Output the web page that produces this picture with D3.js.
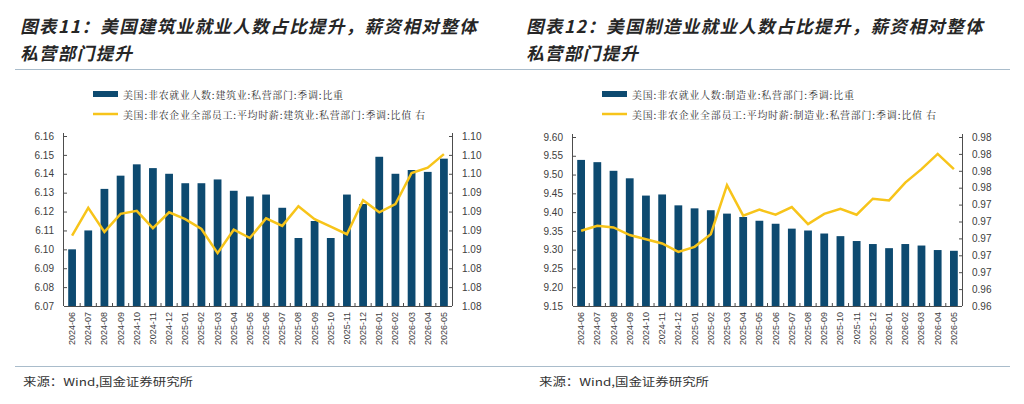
<!DOCTYPE html>
<html>
<head>
<meta charset="utf-8">
<script src="https://cdn.jsdelivr.net/npm/d3@7"></script>
<style>
  body { margin: 0; background: #fff; }
  text { font-family: "Liberation Sans", Arial, sans-serif; }
</style>
</head>
<body>
<svg id="chart" width="1024" height="404"></svg>
<script>
// months shared by both panels
const months = ["2024-06","2024-07","2024-08","2024-09","2024-10","2024-11","2024-12",
  "2025-01","2025-02","2025-03","2025-04","2025-05","2025-06","2025-07","2025-08",
  "2025-09","2025-10","2025-11","2025-12","2026-01","2026-02","2026-03","2026-04","2026-05"];

// panel 11: construction
const constructionShare = [6.100,6.110,6.132,6.139,6.145,6.143,6.140,6.135,6.135,6.137,6.131,6.128,
  6.129,6.122,6.106,6.115,6.106,6.129,6.124,6.149,6.140,6.142,6.141,6.148];
const constructionWage = [1.0873,1.0910,1.0878,1.0902,1.0906,1.0883,1.0904,1.0895,1.0882,1.0850,1.0881,1.0870,
  1.0896,1.0886,1.0912,1.0895,1.0885,1.0875,1.0920,1.0904,1.0915,1.0956,1.0963,1.0981];
const constructionLeftDomain = [6.07, 6.16];
const constructionRightDomain = [1.078, 1.1005];

// panel 12: manufacturing
const manufShare = [9.539,9.533,9.510,9.490,9.444,9.447,9.418,9.410,9.405,9.396,9.387,9.377,
  9.369,9.356,9.351,9.343,9.336,9.323,9.315,9.304,9.315,9.311,9.299,9.297];
const manufWage = [0.9709,0.9715,0.9713,0.9704,0.9699,0.9694,0.9684,0.9690,0.9705,0.9763,0.9727,0.9734,
  0.9728,0.9737,0.9717,0.9729,0.9735,0.9728,0.9747,0.9745,0.9766,0.9782,0.9800,0.9782];
const manufLeftDomain = [9.15, 9.60];
const manufRightDomain = [0.962, 0.982];

const barColor = "#0d4a70";
const lineColor = "#f7c41a";
const axisColor = "#4d4d4d";
const labelColor = "#404040";

const svg = d3.select("#chart");
svg.append("rect").attr("width", 1024).attr("height", 404).attr("fill", "#fff");

// rules under the titles and above the source lines
svg.append("line").attr("x1", 15).attr("x2", 1010).attr("y1", 69.5).attr("y2", 69.5)
  .attr("stroke", "#a9bccb").attr("stroke-width", 1);
svg.append("line").attr("x1", 15).attr("x2", 1010).attr("y1", 366.5).attr("y2", 366.5)
  .attr("stroke", "#a9bccb").attr("stroke-width", 1);

function drawPanel(p) {
  const g = svg.append("g");

  // title, two lines, slanted like the original kai italic
  p.title.forEach((t, i) => {
    g.append("text")
      .attr("transform", `translate(${p.titleX},${25 + i * 27}) skewX(-13)`)
      .attr("dominant-baseline", "central")
      .style("font-family", "'Noto Sans CJK SC', sans-serif")
      .style("font-weight", 700)
      .style("font-size", "17.5px").style("letter-spacing", "1.4px")
      .attr("fill", "#262626")
      .text(t);
  });

  // legend
  g.append("rect").attr("x", p.legendX).attr("y", 91).attr("width", 25).attr("height", 6)
    .attr("fill", barColor);
  g.append("line").attr("x1", p.legendX).attr("x2", p.legendX + 25).attr("y1", 114).attr("y2", 114)
    .attr("stroke", lineColor).attr("stroke-width", 2.5);
  p.legend.forEach((t, i) => {
    g.append("text")
      .attr("x", p.legendX + 30).attr("y", 94 + i * 20)
      .attr("dominant-baseline", "central")
      .attr("textLength", p.legendWidths[i]).attr("lengthAdjust", "spacing")
      .style("font-family", "'Noto Serif CJK SC', 'Noto Sans CJK SC', serif")
      .style("font-size", "10px")
      .attr("fill", "#333")
      .text(t);
  });

  const x = d3.scaleBand().domain(months).range([p.left, p.right]).paddingInner(0.52).paddingOuter(0.26);
  const yL = d3.scaleLinear().domain(p.leftDomain).range([p.bottom, p.top]);
  const yR = d3.scaleLinear().domain(p.rightDomain).range([p.bottom, p.top]);

  // bars
  g.selectAll("rect.bar").data(p.share).enter().append("rect")
    .attr("class", "bar")
    .attr("x", (d, i) => x(months[i]))
    .attr("width", x.bandwidth())
    .attr("y", d => yL(d))
    .attr("height", d => p.bottom - yL(d))
    .attr("fill", barColor);

  // line
  const line = d3.line()
    .x((d, i) => x(months[i]) + x.bandwidth() / 2)
    .y(d => yR(d));
  g.append("path").datum(p.wage)
    .attr("d", line)
    .attr("fill", "none")
    .attr("stroke", lineColor)
    .attr("stroke-width", 2.5)
    .attr("stroke-linejoin", "miter");

  // left axis
  const leftTicks = d3.range(0, p.leftCount + 1).map(i => p.leftDomain[0] + i * (p.leftDomain[1] - p.leftDomain[0]) / p.leftCount);
  const aL = g.append("g").attr("transform", `translate(${p.left},0)`)
    .call(d3.axisLeft(yL).tickValues(leftTicks).tickFormat(d3.format(".2f")).tickSize(-3).tickPadding(10));
  const rightTicks = d3.range(0, p.rightCount + 1).map(i => p.rightDomain[0] + i * (p.rightDomain[1] - p.rightDomain[0]) / p.rightCount);
  const aR = g.append("g").attr("transform", `translate(${p.right},0)`)
    .call(d3.axisRight(yR).tickValues(rightTicks).tickFormat(d3.format(".2f")).tickSize(-3).tickPadding(10));
  [aL, aR].forEach(a => {
    a.select(".domain").attr("stroke", axisColor).attr("d", a === aL
      ? `M-0.5,${p.top - 3}V${p.bottom}` : `M0.5,${p.top - 3}V${p.bottom}`);
    a.selectAll(".tick line").attr("stroke", axisColor);
    a.selectAll("text").attr("fill", labelColor).style("font-size", "10px")
      .style("font-family", "'Liberation Sans', Arial, sans-serif");
  });

  // bottom axis with ticks between categories
  g.append("line").attr("x1", p.left).attr("x2", p.right).attr("y1", p.bottom + 0.5).attr("y2", p.bottom + 0.5)
    .attr("stroke", axisColor);
  const step = x.step();
  g.selectAll("line.xt").data(d3.range(1, months.length)).enter().append("line")
    .attr("class", "xt")
    .attr("x1", i => p.left + i * step).attr("x2", i => p.left + i * step)
    .attr("y1", p.bottom).attr("y2", p.bottom - 3)
    .attr("stroke", axisColor);
  g.selectAll("text.xl").data(months).enter().append("text")
    .attr("class", "xl")
    .attr("transform", d => `translate(${x(d) + x.bandwidth() / 2 + 3},${p.bottom + 6}) rotate(-90)`)
    .attr("text-anchor", "end")
    .style("font-size", "9px")
    .attr("fill", labelColor)
    .text(d => d);

  // source
  g.append("text")
    .attr("x", p.sourceX).attr("y", 381)
    .attr("dominant-baseline", "central")
    .attr("textLength", 170).attr("lengthAdjust", "spacingAndGlyphs")
    .style("font-family", "'Noto Sans CJK SC', sans-serif")
    .style("font-size", "11px")
    .attr("fill", "#333")
    .text("来源：Wind,国金证券研究所");
}

drawPanel({
  title: ["图表11：美国建筑业就业人数占比提升，薪资相对整体", "私营部门提升"],
  legend: ["美国:非农就业人数:建筑业:私营部门:季调:比重", "美国:非农企业全部员工:平均时薪:建筑业:私营部门:季调:比值 右"],
  legendWidths: [220, 302],
  titleX: 22, legendX: 93, sourceX: 23,
  left: 64, right: 452, top: 136, bottom: 306,
  share: constructionShare, wage: constructionWage,
  leftDomain: constructionLeftDomain, rightDomain: constructionRightDomain,
  leftCount: 9, rightCount: 9
});

drawPanel({
  title: ["图表12：美国制造业就业人数占比提升，薪资相对整体", "私营部门提升"],
  legend: ["美国:非农就业人数:制造业:私营部门:季调:比重", "美国:非农企业全部员工:平均时薪:制造业:私营部门:季调:比值 右"],
  legendWidths: [222, 304],
  titleX: 528, legendX: 602, sourceX: 539,
  left: 573, right: 962, top: 137, bottom: 306,
  share: manufShare, wage: manufWage,
  leftDomain: manufLeftDomain, rightDomain: manufRightDomain,
  leftCount: 9, rightCount: 10
});
</script>
</body>
</html>
